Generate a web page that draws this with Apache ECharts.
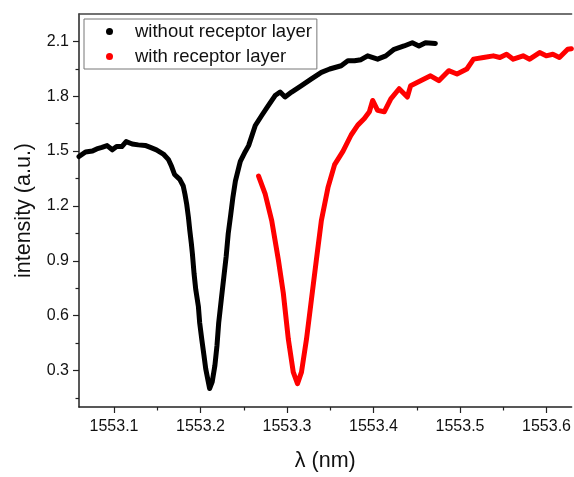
<!DOCTYPE html>
<html>
<head>
<meta charset="utf-8">
<script src="https://cdn.jsdelivr.net/npm/echarts@6/dist/echarts.min.js"></script>
<style>
  html, body { margin: 0; padding: 0; background: #fff; }
  #chart { width: 574px; height: 477px; }
</style>
</head>
<body>
<div id="chart"></div>
<script>
// wavelength (nm) and intensity (a.u.)
const withoutLambda = [
  1553.0595, 1553.067, 1553.075, 1553.080, 1553.086, 1553.092, 1553.098, 1553.103,
  1553.109, 1553.114, 1553.121, 1553.128, 1553.136, 1553.142, 1553.149, 1553.157,
  1553.163, 1553.1665, 1553.170, 1553.176, 1553.180, 1553.182, 1553.184, 1553.186,
  1553.1876, 1553.1894, 1553.1906, 1553.1925, 1553.1945, 1553.1975, 1553.199, 1553.2014,
  1553.204, 1553.206, 1553.209, 1553.2105, 1553.2135, 1553.2166, 1553.219, 1553.221,
  1553.224, 1553.227, 1553.2296, 1553.232, 1553.235, 1553.2375, 1553.2403, 1553.2441,
  1553.246, 1553.2518, 1553.2556, 1553.2633, 1553.2709, 1553.2785, 1553.2862, 1553.2920,
  1553.2977, 1553.3053, 1553.3167, 1553.3282, 1553.3397, 1553.3493, 1553.3626, 1553.3703,
  1553.3780, 1553.3855, 1553.3932, 1553.4047, 1553.4142, 1553.4238, 1553.4353, 1553.4448,
  1553.4525, 1553.4601, 1553.4715
];
const withoutIntensity = [
  1.47, 1.495, 1.50, 1.512, 1.52, 1.53, 1.507, 1.525,
  1.525, 1.552, 1.539, 1.534, 1.531, 1.52, 1.507, 1.484,
  1.453, 1.417, 1.372, 1.345, 1.309, 1.264, 1.21, 1.138,
  1.066, 0.994, 0.939, 0.831, 0.742, 0.651, 0.561, 0.471,
  0.381, 0.309, 0.237, 0.201, 0.237, 0.327, 0.435, 0.561,
  0.688, 0.814, 0.922, 1.048, 1.156, 1.25, 1.336, 1.408,
  1.444, 1.498, 1.53, 1.64, 1.696, 1.75, 1.804, 1.823,
  1.796, 1.823, 1.858, 1.895, 1.931, 1.949, 1.967, 1.994,
  1.994, 2.0, 2.021, 2.003, 2.021, 2.057, 2.075, 2.093,
  2.075, 2.093, 2.089
];

const withLambda = [
  1553.2671, 1553.2748, 1553.2823, 1553.2900, 1553.2957, 1553.3015, 1553.3072, 1553.3121,
  1553.3167, 1553.3225, 1553.3282, 1553.3339, 1553.3397, 1553.3473, 1553.3550, 1553.3646,
  1553.3741, 1553.3818, 1553.3894, 1553.3952, 1553.3990, 1553.4047, 1553.4124, 1553.4200,
  1553.4296, 1553.4391, 1553.4429, 1553.4544, 1553.4659, 1553.4755, 1553.4869, 1553.4965,
  1553.5079, 1553.5156, 1553.5271, 1553.5385, 1553.5461, 1553.5538, 1553.5615, 1553.5729,
  1553.5805, 1553.5920, 1553.5996, 1553.6073, 1553.6149, 1553.6245, 1553.6287
];
const withIntensity = [
  1.363, 1.264, 1.12, 0.904, 0.723, 0.471, 0.291, 0.228,
  0.291, 0.471, 0.688, 0.904, 1.12, 1.30, 1.426, 1.498,
  1.588, 1.642, 1.678, 1.715, 1.777, 1.723, 1.715, 1.786,
  1.841, 1.796, 1.858, 1.885, 1.912, 1.885, 1.94, 1.922,
  1.949, 2.003, 2.012, 2.021, 2.012, 2.03, 2.003, 2.021,
  2.003, 2.039, 2.021, 2.03, 2.012, 2.057, 2.06
];

const seriesNames = ['without receptor layer', 'with receptor layer'];
const xTicks = [1553.1, 1553.2, 1553.3, 1553.4, 1553.5, 1553.6];
const xMinorTicks = [1553.15, 1553.25, 1553.35, 1553.45, 1553.55];
const yTicks = [0.3, 0.6, 0.9, 1.2, 1.5, 1.8, 2.1];
const yMinorTicks = [0.15, 0.45, 0.75, 1.05, 1.35, 1.65, 1.95];

const font = 'Liberation Sans, Arial, sans-serif';
const axisColor = '#222';

const zip = (xs, ys) => xs.map((x, i) => [x, ys[i]]);

const chart = echarts.init(document.getElementById('chart'));

const baseX = {
  type: 'value',
  min: 1553.0595,
  max: 1553.629,
  splitLine: { show: false }
};
const baseY = {
  type: 'value',
  min: 0.1,
  max: 2.25,
  splitLine: { show: false }
};

chart.setOption({
  animation: false,
  textStyle: { fontFamily: font },
  grid: { left: 79, top: 14, right: 0, bottom: 65 },
  legend: {
    data: seriesNames,
    orient: 'vertical',
    left: 84,
    top: 19,
    icon: 'circle',
    itemWidth: 7,
    itemHeight: 7,
    itemGap: 6,
    padding: [3, 5, 3, 22],
    borderColor: '#777',
    borderWidth: 1,
    textStyle: { fontFamily: font, fontSize: 18.5, color: '#111', padding: [0, 0, 0, 17] }
  },
  xAxis: [
    Object.assign({}, baseX, {
      position: 'bottom',
      name: 'λ (nm)',
      nameLocation: 'middle',
      nameGap: 43,
      nameTextStyle: { fontSize: 21.5, color: '#111', fontFamily: font },
      axisLine: { lineStyle: { color: axisColor, width: 1.5 } },
      axisTick: { customValues: xTicks, length: 6, inside: false, lineStyle: { color: axisColor, width: 1.2 } },
      axisLabel: {
        customValues: xTicks,
        margin: 12,
        fontSize: 16,
        color: '#111',
        fontFamily: font,
        formatter: v => v.toFixed(1)
      }
    }),
    Object.assign({}, baseX, {
      position: 'bottom',
      axisLine: { show: false },
      axisTick: { customValues: xMinorTicks, length: 3.5, lineStyle: { color: axisColor, width: 1.2 } },
      axisLabel: { show: false }
    }),
    Object.assign({}, baseX, {
      position: 'top',
      axisLine: { lineStyle: { color: '#444', width: 1.5 } },
      axisTick: { show: false },
      axisLabel: { show: false }
    })
  ],
  yAxis: [
    Object.assign({}, baseY, {
      position: 'left',
      name: 'intensity (a.u.)',
      nameLocation: 'middle',
      nameGap: 44,
      nameTextStyle: { fontSize: 21.5, color: '#111', fontFamily: font },
      axisLine: { show: true, lineStyle: { color: axisColor, width: 1.5 } },
      axisTick: { show: true, customValues: yTicks, length: 6, lineStyle: { color: axisColor, width: 1.2 } },
      axisLabel: {
        customValues: yTicks,
        margin: 10,
        fontSize: 16,
        color: '#111',
        fontFamily: font,
        formatter: v => v.toFixed(1)
      }
    }),
    Object.assign({}, baseY, {
      position: 'left',
      axisLine: { show: false },
      axisTick: { show: true, customValues: yMinorTicks, length: 3.5, lineStyle: { color: axisColor, width: 1.2 } },
      axisLabel: { show: false }
    })
  ],
  series: [
    {
      name: seriesNames[0],
      type: 'line',
      data: zip(withoutLambda, withoutIntensity),
      showSymbol: false,
      color: '#000',
      lineStyle: { color: '#000', width: 5, join: 'round', cap: 'round' }
    },
    {
      name: seriesNames[1],
      type: 'line',
      data: zip(withLambda, withIntensity),
      showSymbol: false,
      color: '#ff0000',
      lineStyle: { color: '#ff0000', width: 5, join: 'round', cap: 'round' }
    }
  ]
});
</script>
</body>
</html>
